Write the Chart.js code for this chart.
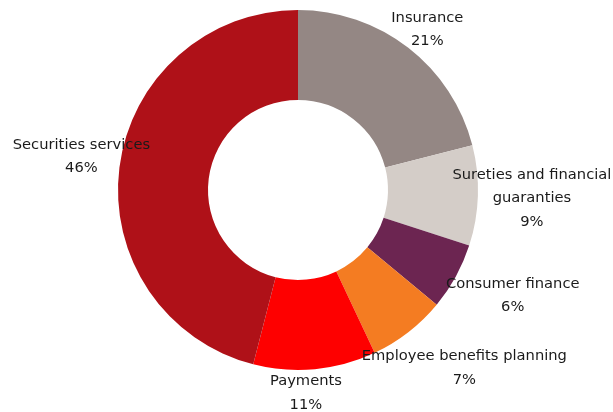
<!DOCTYPE html>
<html>
<head>
<meta charset="utf-8">
<script src="https://cdn.jsdelivr.net/npm/chart.js@4/dist/chart.umd.min.js"></script>
<style>
  html, body { margin: 0; padding: 0; background: #fff; }
  #wrap { width: 613px; height: 412px; }
</style>
</head>
<body>
<div id="wrap"><canvas id="chart" width="613" height="412"></canvas></div>
<script>
// Business lines and their share (%)
const segments = [
  ['Insurance'],
  ['Sureties and financial', 'guaranties'],
  ['Consumer finance'],
  ['Employee benefits planning'],
  ['Payments'],
  ['Securities services'],
];
const shares = [21, 9, 6, 7, 11, 46];
const shareLabels = ['21%', '9%', '6%', '7%', '11%', '46%'];

const colors = ['#948784', '#D4CDC8', '#6C2551', '#F47C22', '#FE0000', '#AF1118'];

// Label block offset from the outer edge of each slice (at its mid-angle)
const labelOffsets = [
  [19, -18], [54, 3], [57, 19], [56, 36], [-9, 24], [-38, -11],
];

const outsideLabels = {
  id: 'outsideLabels',
  afterDraw(chart) {
    const ctx = chart.ctx;
    const meta = chart.getDatasetMeta(0);
    ctx.save();
    ctx.font = '14.7px "DejaVu Sans", sans-serif';
    ctx.fillStyle = '#1a1a1a';
    ctx.textAlign = 'center';
    ctx.textBaseline = 'middle';
    meta.data.forEach((arc, i) => {
      const mid = (arc.startAngle + arc.endAngle) / 2;
      const x = arc.x + Math.cos(mid) * arc.outerRadius + labelOffsets[i][0];
      const y = arc.y + Math.sin(mid) * arc.outerRadius + labelOffsets[i][1];
      const lines = segments[i].concat(shareLabels[i]);
      const lh = 23.5;
      const top = y - (lines.length - 1) * lh / 2;
      lines.forEach((t, k) => ctx.fillText(t, x, top + k * lh));
    });
    ctx.restore();
  }
};

new Chart(document.getElementById('chart'), {
  type: 'doughnut',
  data: {
    labels: segments.map(s => s.join(' ')),
    datasets: [{
      data: shares,
      backgroundColor: colors,
      borderWidth: 0,
    }],
  },
  options: {
    responsive: false,
    animation: false,
    cutout: '50%',
    layout: { padding: { top: 10, bottom: 42, left: 0, right: 17 } },
    plugins: {
      legend: { display: false },
      tooltip: { enabled: false },
    },
  },
  plugins: [outsideLabels],
});
</script>
</body>
</html>
